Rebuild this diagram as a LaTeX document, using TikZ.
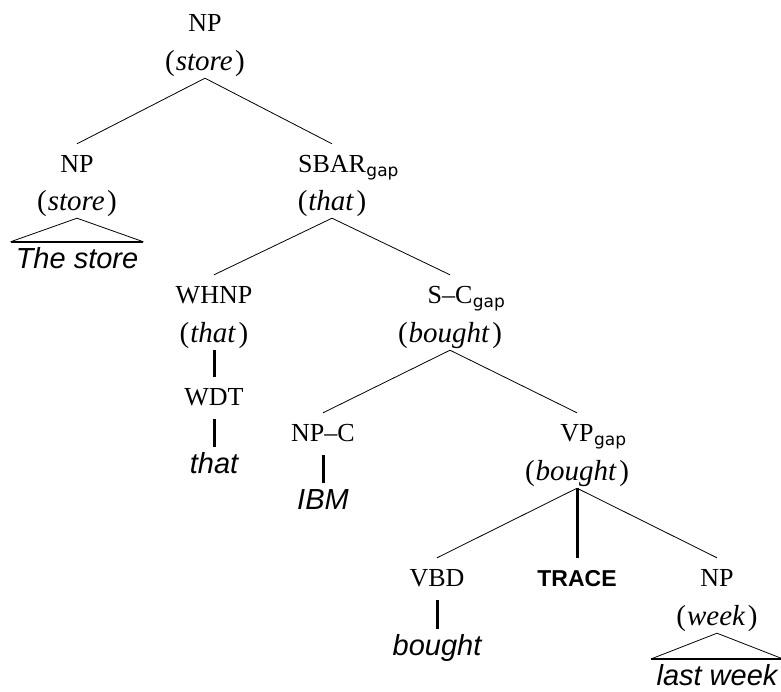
\documentclass[tikz,border=0pt]{standalone}
\usepackage{fontspec}
\setmainfont{Liberation Serif}
\newfontfamily\leaffont{Liberation Sans}
\newfontfamily\subfont{DejaVu Sans}
% subscript "gap" hanging to the right of a category label
\newcommand{\gapsub}{\rlap{\kern0.5pt\raisebox{-4.5pt}{\subfont\fontsize{17}{17}\selectfont gap}}}
% lexical head in parentheses
\newcommand{\hd}[1]{(\kern1pt\textit{#1}\kern2.5pt)}
\begin{document}
\begin{tikzpicture}[x=1pt,y=-1pt,
  every node/.style={inner sep=0pt},
  cat/.style={anchor=base, font=\fontsize{26}{26}\selectfont, text height=28pt, text depth=14pt},
  head/.style={anchor=base, font=\fontsize{29}{29}\selectfont, text height=12pt, text depth=8pt},
  word/.style={anchor=base, font=\leaffont\itshape\fontsize{29}{29}\selectfont,
               text height=26pt, text depth=6pt, inner xsep=5pt},
  tracelab/.style={cat, font=\leaffont\bfseries\fontsize{23}{23}\selectfont},
  branch/.style={line width=0.8pt},
  unary/.style={line width=3pt},
  roofbase/.style={line width=2.4pt}]
\useasboundingbox (0,0) rectangle (781,691);

% root
\node[cat]  (np0)  at (205,31)  {NP};
\node[head] (np0h) at (205,70)  {\hd{store}};
% subject NP
\node[cat]  (np1)  at (77,172)  {NP};
\node[head] (np1h) at (77,210)  {\hd{store}};
\node[word] (thestore) at (77,268) {The store};
% relative clause
\node[cat]  (sbar)  at (332,172) {SBAR\gapsub};
\node[head] (sbarh) at (332,210) {\hd{that}};
\node[cat]  (whnp)  at (214,303) {WHNP};
\node[head] (whnph) at (214,342) {\hd{that}};
\node[cat]  (wdt)   at (214,405) {WDT};
\node[word] (that)  at (214,473) {that};
\node[cat]  (sc)    at (450,303) {S--C\gapsub};
\node[head] (sch)   at (450,342) {\hd{bought}};
\node[cat]  (npc)   at (323,441) {NP--C};
\node[word] (ibm)   at (323,509) {IBM};
\node[cat]  (vp)    at (577,441) {VP\gapsub};
\node[head] (vph)   at (577,480) {\hd{bought}};
\node[cat]  (vbd)   at (437,586) {VBD};
\node[word] (bought) at (437,655) {bought};
\node[tracelab] (trace) at (577,586) {TRACE};
\node[cat]  (np2)   at (717,586) {NP};
\node[head] (np2h)  at (717,625) {\hd{week}};
\node[word] (lastweek) at (717,685) {last week};

% branches
\draw[branch] (np0h.south) -- (np1.north);
\draw[branch] (np0h.south) -- (sbar.north);
\draw[branch] (sbarh.south) -- (whnp.north);
\draw[branch] (sbarh.south) -- (sc.north);
\draw[branch] (sch.south) -- (npc.north);
\draw[branch] (sch.south) -- (vp.north);
\draw[branch] (vph.south) -- (vbd.north);
\draw[branch] (vph.south) -- (np2.north);
% unary links
\draw[unary] (vph.south) -- (trace.north);
\draw[unary] (whnph.south) -- (wdt.north);
\draw[unary] (wdt.south) -- (that.north);
\draw[unary] (npc.south) -- (ibm.north);
\draw[unary] (vbd.south) -- (bought.north);
% roofs over unanalysed phrases
\draw[branch] (thestore.north west) -- (np1h.south) -- (thestore.north east);
\draw[roofbase] (thestore.north west) -- (thestore.north east);
\draw[branch] (lastweek.north west) -- (np2h.south) -- (lastweek.north east);
\draw[roofbase] (lastweek.north west) -- (lastweek.north east);
\end{tikzpicture}
\end{document}
